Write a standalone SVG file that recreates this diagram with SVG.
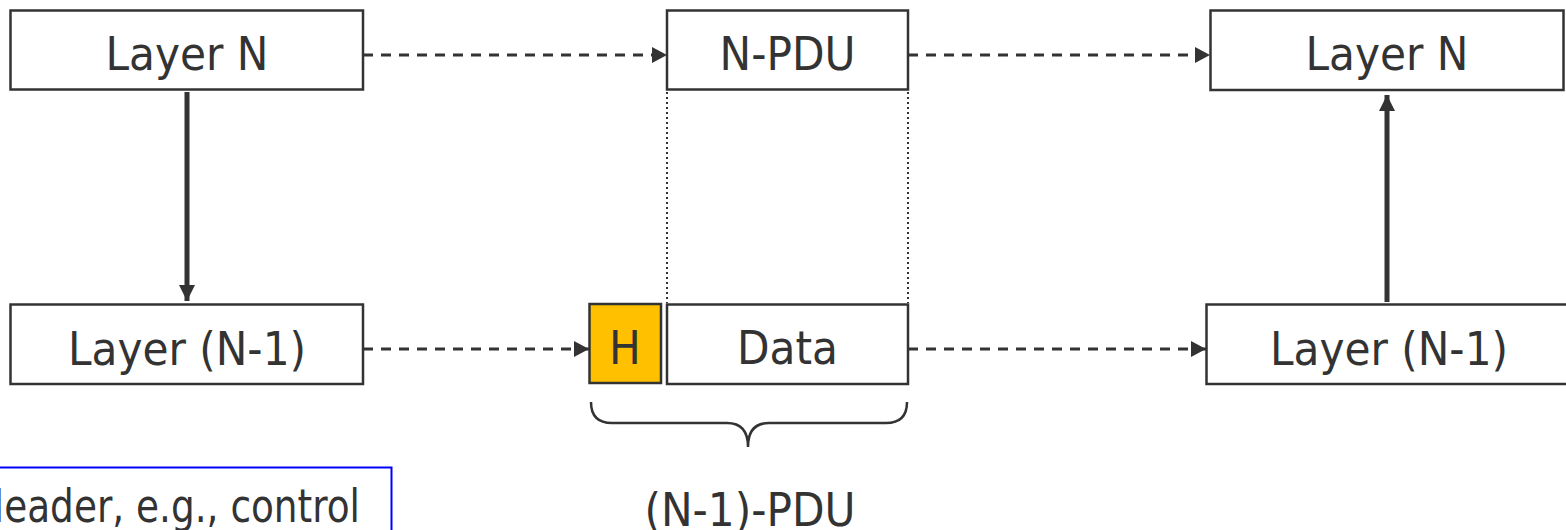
<svg xmlns="http://www.w3.org/2000/svg" width="1566" height="530" viewBox="0 0 1566 530">
<style>
.box{fill:#fff;stroke:#333;stroke-width:2.5}
.hdr{fill:#FFC000;stroke:#333;stroke-width:2.5}
.t{font-family:"DejaVu Sans Condensed","DejaVu Sans",sans-serif;font-size:47px;fill:#333;text-anchor:middle}
.dash{fill:none;stroke:#333;stroke-width:3;stroke-dasharray:10 8}
.solid{fill:none;stroke:#333;stroke-width:5}
.dot{fill:none;stroke:#333;stroke-width:2;stroke-dasharray:2 3}
.brace{fill:none;stroke:#333;stroke-width:2.5}
.legend{fill:#fff;stroke:#0000FF;stroke-width:2}
</style>
<defs>
<marker id="ah" viewBox="0 0 15 16" refX="15" refY="8" markerWidth="15" markerHeight="16" markerUnits="userSpaceOnUse" orient="auto">
<path d="M0,0 L15,8 L0,16 Z" fill="#333"/>
</marker>
<marker id="ahb" viewBox="0 0 16 16" refX="16" refY="8" markerWidth="16" markerHeight="16" markerUnits="userSpaceOnUse" orient="auto">
<path d="M0,0 L16,8 L0,16 Z" fill="#333"/>
</marker>
</defs>
<g id="connectors">
<line class="dot" x1="667" y1="92" x2="667" y2="303"/>
<line class="dot" x1="908" y1="92" x2="908" y2="303"/>
<line class="dash" x1="363" y1="55" x2="667" y2="55" marker-end="url(#ah)"/>
<line class="dash" x1="908" y1="55" x2="1210" y2="55" marker-end="url(#ah)"/>
<line class="dash" x1="363" y1="349" x2="589" y2="349" marker-end="url(#ah)"/>
<line class="dash" x1="908" y1="349" x2="1206" y2="349" marker-end="url(#ah)"/>
<line class="solid" x1="187" y1="92" x2="187" y2="301" marker-end="url(#ahb)"/>
<line class="solid" x1="1387" y1="302" x2="1387" y2="95" marker-end="url(#ahb)"/>
<path class="brace" d="M591,402 Q591,423 612,423 L727,423 Q748,423 748,447 Q748,423 769,423 L886,423 Q907,423 907,402"/>
</g>
<g id="layerN-left">
<rect class="box" x="10.5" y="10.5" width="352.5" height="79"/>
<text class="t" x="187" y="70">Layer N</text>
</g>
<g id="npdu">
<rect class="box" x="667" y="10.5" width="241" height="79"/>
<text class="t" x="787.5" y="70">N-PDU</text>
</g>
<g id="layerN-right">
<rect class="box" x="1210.5" y="10.5" width="353" height="79.5"/>
<text class="t" x="1387" y="70">Layer N</text>
</g>
<g id="layerN1-left">
<rect class="box" x="10.5" y="304.5" width="352.5" height="79.5"/>
<text class="t" x="187" y="365">Layer (N-1)</text>
</g>
<g id="header">
<rect class="hdr" x="589.5" y="304" width="71.5" height="79"/>
<text class="t" x="625" y="364">H</text>
</g>
<g id="data">
<rect class="box" x="667" y="304.5" width="241" height="79.5"/>
<text class="t" x="787.5" y="364">Data</text>
</g>
<g id="layerN1-right">
<rect class="box" x="1206.5" y="304.5" width="365" height="79.5"/>
<text class="t" x="1389" y="365">Layer (N-1)</text>
</g>
<g id="pdu-label">
<text class="t" x="750" y="526">(N-1)-PDU</text>
</g>
<g id="legend">
<rect class="legend" x="-20" y="467.5" width="411.5" height="80"/>
<text class="t" x="-24" y="522" style="text-anchor:start" textLength="384" lengthAdjust="spacingAndGlyphs">Header, e.g., control</text>
</g>
</svg>
